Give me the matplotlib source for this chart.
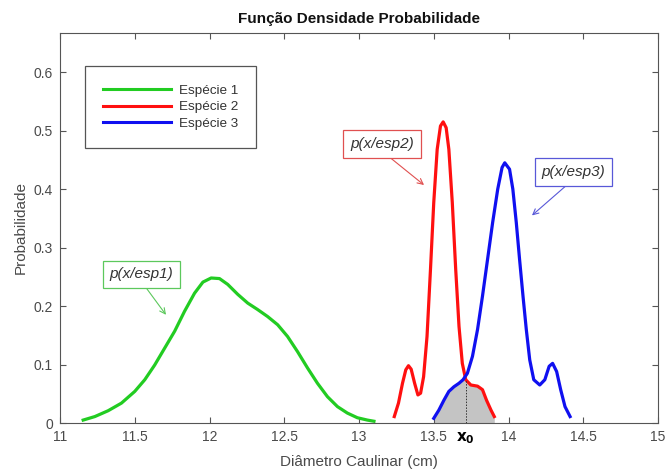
import matplotlib
matplotlib.use("Agg")
import matplotlib.pyplot as plt
import numpy as np

plt.rcParams['font.family'] = ['Liberation Sans', 'DejaVu Sans']

# ---- data ----
esp1_x = [11.155, 11.233, 11.322, 11.411, 11.50, 11.567, 11.633, 11.70, 11.767, 11.833,
          11.90, 11.956, 12.011, 12.067, 12.122, 12.189, 12.256, 12.322, 12.389, 12.456,
          12.522, 12.589, 12.656, 12.722, 12.789, 12.856, 12.922, 12.989, 13.056, 13.10]
esp1_y = [0.005, 0.011, 0.021, 0.034, 0.054, 0.074, 0.099, 0.128, 0.157, 0.191,
          0.222, 0.241, 0.248, 0.247, 0.237, 0.220, 0.205, 0.194, 0.182, 0.168,
          0.148, 0.122, 0.094, 0.068, 0.045, 0.028, 0.017, 0.009, 0.005, 0.003]

esp2_x = [13.236, 13.264, 13.291, 13.313, 13.331, 13.349, 13.372, 13.394, 13.412, 13.432,
          13.455, 13.478, 13.50, 13.523, 13.545, 13.563, 13.583, 13.601, 13.624, 13.647,
          13.669, 13.691, 13.714, 13.748, 13.793, 13.826, 13.853, 13.883, 13.905]
esp2_y = [0.011, 0.034, 0.068, 0.091, 0.098, 0.092, 0.068, 0.048, 0.051, 0.079,
          0.148, 0.262, 0.377, 0.468, 0.508, 0.515, 0.505, 0.468, 0.377, 0.262,
          0.165, 0.102, 0.074, 0.065, 0.063, 0.057, 0.039, 0.022, 0.011]

esp3_x = [13.50, 13.534, 13.568, 13.601, 13.635, 13.669, 13.696, 13.725, 13.759, 13.793,
          13.826, 13.86, 13.894, 13.928, 13.957, 13.975, 14.007, 14.029, 14.052, 14.074,
          14.097, 14.119, 14.142, 14.169, 14.209, 14.243, 14.272, 14.295, 14.322, 14.349,
          14.378, 14.412]
esp3_y = [0.008, 0.022, 0.039, 0.054, 0.062, 0.068, 0.074, 0.085, 0.114, 0.160,
          0.217, 0.280, 0.343, 0.400, 0.437, 0.445, 0.434, 0.400, 0.343, 0.280,
          0.217, 0.160, 0.108, 0.074, 0.065, 0.074, 0.097, 0.102, 0.088, 0.057,
          0.028, 0.011]

labels = ['Espécie 1', 'Espécie 2', 'Espécie 3']
x0 = 13.714
y0 = 0.074

xticks = [11, 11.5, 12, 12.5, 13, 13.5, 14, 14.5, 15]
xticklabels = ['11', '11.5', '12', '12.5', '13', '13.5', '14', '14.5', '15']
yticks = [0, 0.1, 0.2, 0.3, 0.4, 0.5, 0.6]
yticklabels = ['0', '0.1', '0.2', '0.3', '0.4', '0.5', '0.6']

# ---- figure ----
fig = plt.figure(figsize=(6.67, 4.73), dpi=100)
ax = fig.add_axes([60/667, 50/473, 598/667, 390/473])

tc = '#4a4a4a'
lw = 2.3
ax.plot(esp1_x, esp1_y, color='#22cc22', lw=lw, label=labels[0], solid_joinstyle='round')
ax.plot(esp2_x, esp2_y, color='#ff1010', lw=lw, label=labels[1], solid_joinstyle='round')
ax.plot(esp3_x, esp3_y, color='#1010f0', lw=lw, label=labels[2], solid_joinstyle='round')

# shaded overlap region (under blue left of x0, under red right of x0)
bx = np.array(esp3_x); by = np.array(esp3_y)
rx = np.array(esp2_x); ry = np.array(esp2_y)
fx = np.concatenate([bx[bx < x0], [x0], rx[rx > x0]])
fy = np.concatenate([by[bx < x0], [y0], ry[rx > x0]])
ax.fill_between(fx, 0, fy, color='#c4c4c4', zorder=1, lw=0)
ax.plot([x0, x0], [0, y0], color='#333333', ls=(0, (1.5, 1.5)), lw=0.7, zorder=3)

ax.set_xlim(11, 15)
ax.set_ylim(0, 0.667)
ax.set_xticks(xticks)
ax.set_xticklabels(xticklabels)
ax.set_yticks(yticks)
ax.set_yticklabels(yticklabels)
ax.tick_params(direction='in', top=True, right=True, length=4, width=0.8,
               colors='#555555', labelcolor=tc, labelsize=10, pad=5)
for s in ax.spines.values():
    s.set_color('#555555')
    s.set_linewidth(0.8)

ax.text(x0, -0.012, r'$\mathbf{x_0}$', transform=ax.transData, ha='center', va='top',
        fontsize=11, color='black')

ax.set_title('Função Densidade Probabilidade', fontsize=11, fontweight='bold',
             color='#111111', pad=7)
ax.set_xlabel('Diâmetro Caulinar (cm)', fontsize=11, color=tc, labelpad=8)
ax.set_ylabel('Probabilidade', fontsize=11, color=tc, labelpad=4)

leg = ax.legend(loc='upper left', bbox_to_anchor=(0.042, 0.915), fontsize=9.7,
                handlelength=5.0, handletextpad=0.6, labelspacing=0.3,
                borderpad=1.35, fancybox=False, framealpha=1, borderaxespad=0)
leg.get_frame().set_edgecolor('#555555')
leg.get_frame().set_linewidth(0.9)
for t in leg.get_texts():
    t.set_color('#333333')
for l in leg.get_lines():
    l.set_linewidth(2.2)

ann = [
    ('p(x/esp1)', (11.545, 0.254), (11.709, 0.185), '#5cc85c'),
    ('p(x/esp2)', (13.154, 0.477), (13.435, 0.407), '#e05050'),
    ('p(x/esp3)', (14.435, 0.429), (14.157, 0.355), '#5858d8'),
]
for txt, xytext, xy, c in ann:
    ax.annotate(txt, xy=xy, xytext=xytext, textcoords='data', ha='center', va='center',
                fontsize=11, style='italic', color='#333333',
                bbox=dict(boxstyle='square,pad=0.45', fc='white', ec=c, lw=0.9),
                arrowprops=dict(arrowstyle='->', color=c, lw=0.8, relpos=(0.5, 0),
                                shrinkA=0, shrinkB=0, mutation_scale=10))

fig.savefig('out.png', dpi=100)
